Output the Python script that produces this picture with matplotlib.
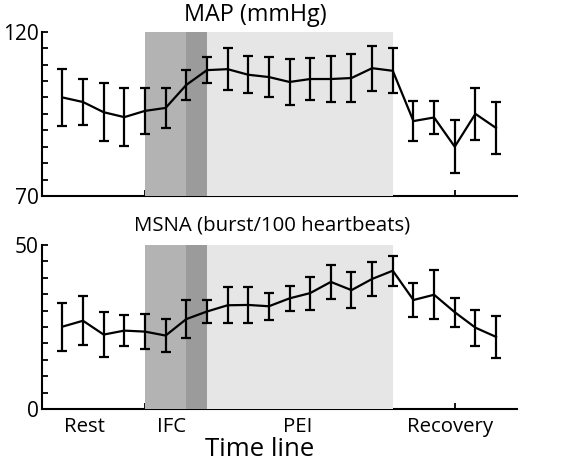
import matplotlib
matplotlib.use("Agg")
import matplotlib.pyplot as plt
import numpy as np

plt.rcParams['font.family'] = ['Open Sans', 'DejaVu Sans']

t = list(range(1, 23))
map_mean = [100.0, 98.6, 95.5, 94.0, 95.9, 96.8, 103.8, 108.3, 108.6, 106.9, 106.2,
            104.7, 105.6, 105.6, 105.9, 108.9, 108.1, 92.8, 93.9, 85.0, 95.0, 90.7]
map_err = [8.7, 7.0, 8.8, 8.8, 7.0, 6.1, 4.5, 4.0, 6.3, 5.6, 6.1,
           7.0, 6.5, 7.0, 7.2, 6.8, 6.9, 6.1, 5.1, 8.0, 8.0, 7.8]
msna_mean = [25.1, 26.9, 22.7, 23.9, 23.6, 22.4, 27.4, 29.7, 31.6, 31.7, 31.3,
             33.7, 35.3, 38.7, 36.2, 39.6, 42.1, 33.2, 34.8, 29.5, 24.8, 22.0]
msna_err = [7.3, 7.4, 6.8, 4.6, 5.2, 5.0, 5.7, 3.4, 5.5, 5.4, 4.1,
            3.8, 5.0, 5.2, 5.4, 5.1, 4.5, 5.2, 7.5, 4.4, 5.5, 6.4]
phases = ["Rest", "IFC", "PEI", "Recovery"]
phase_x = [85, 172, 298, 450]

W, H = 566, 467
fig = plt.figure(figsize=(W / 100, H / 100), dpi=100)

def axes_px(l, t_, r, b):
    return fig.add_axes([l / W, 1 - b / H, (r - l) / W, (b - t_) / H])

ax1 = axes_px(41.7, 31.7, 516.7, 196)
ax2 = axes_px(41.7, 244.7, 516.7, 409.3)

def style(ax, mean, err, lo, hi):
    ax.axvspan(5, 7, color='#b3b3b3', lw=0, zorder=3)
    ax.axvspan(7, 8, color='#9b9b9b', lw=0, zorder=3)
    ax.axvspan(8, 17, color='#e6e6e6', lw=0, zorder=3)
    ax.errorbar(t, mean, yerr=err, color='black', lw=1.6, elinewidth=1.6,
                capsize=3.3, capthick=1.6, zorder=5)
    ax.set_xlim(0, 23)
    ax.set_ylim(lo, hi)
    for s in ['top', 'right']:
        ax.spines[s].set_visible(False)
    for s in ['left', 'bottom']:
        ax.spines[s].set_linewidth(1.5)
    ax.set_xticks([5, 10, 15, 20])
    ax.set_xticklabels([])
    ax.set_yticks(np.arange(lo, hi + 0.1, 5))
    ax.set_yticklabels([str(lo)] + [''] * (int((hi - lo) / 5) - 1) + [str(hi)], fontsize=15)
    ax.tick_params(direction='in', length=4, width=1.3, pad=2)

style(ax1, map_mean, map_err, 70, 120)
style(ax2, msna_mean, msna_err, 0, 50)

fig.text(255 / W, 1 - 15 / H, "MAP (mmHg)", ha='center', va='center', fontsize=16.8)
fig.text(272 / W, 1 - 226 / H, "MSNA (burst/100 heartbeats)", ha='center', va='center', fontsize=14.7)
for lab, x in zip(phases, phase_x):
    fig.text(x / W, 1 - 427 / H, lab, ha='center', va='center', fontsize=14.7)
fig.text(260 / W, 1 - 450 / H, "Time line", ha='center', va='center', fontsize=18.5)

fig.savefig("out.png", dpi=100)
